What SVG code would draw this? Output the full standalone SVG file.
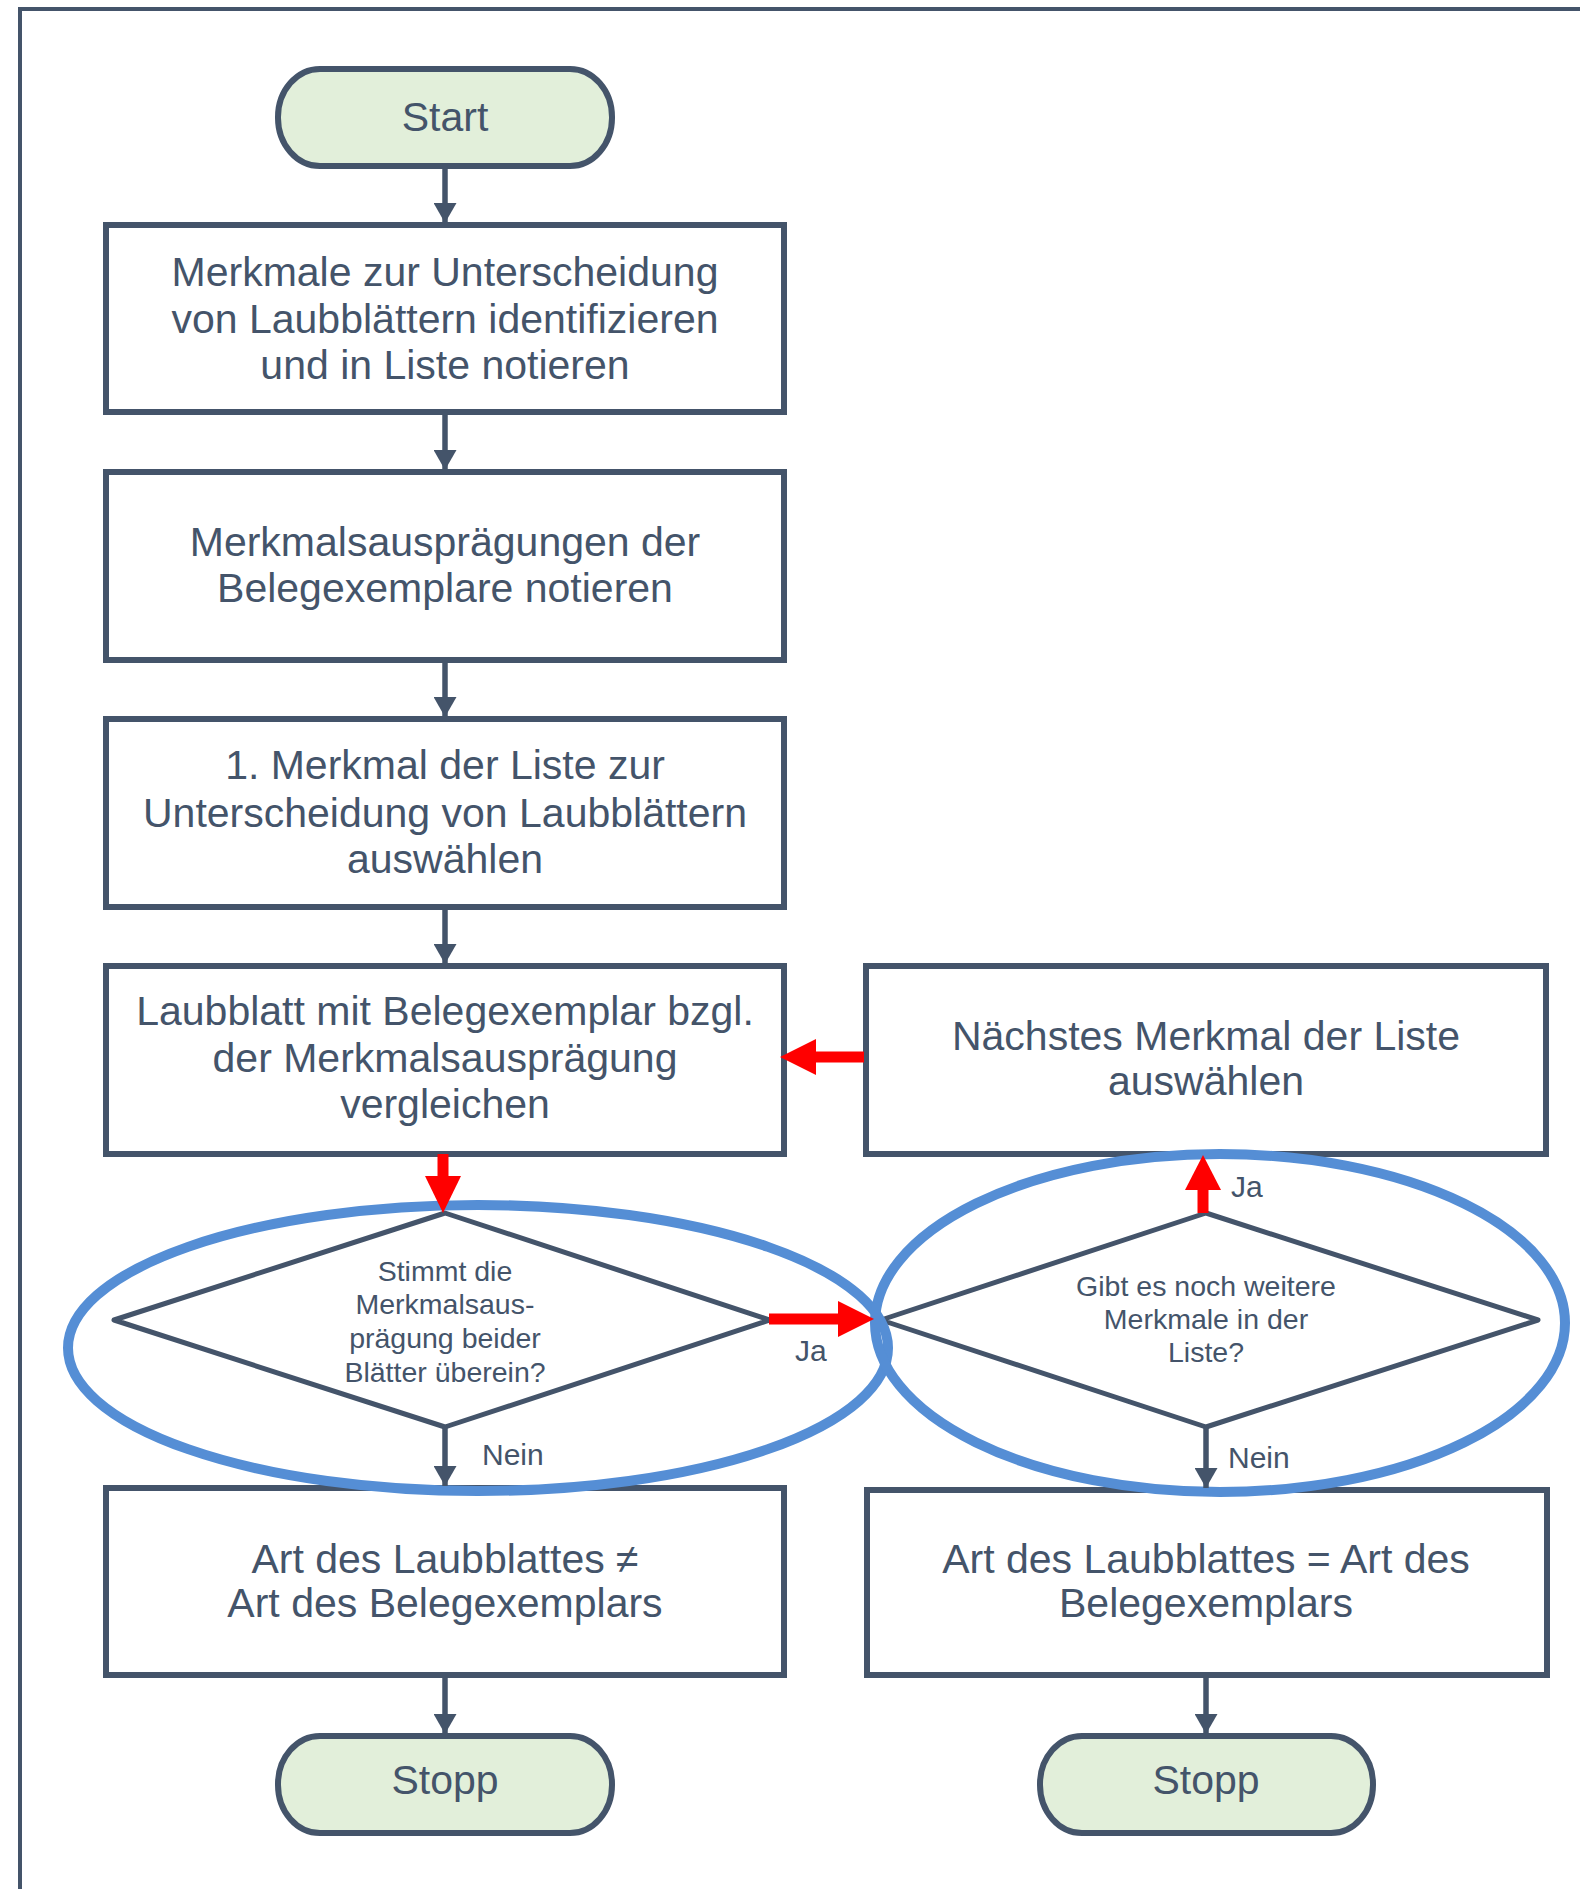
<svg xmlns="http://www.w3.org/2000/svg" width="1580" height="1889" viewBox="0 0 1580 1889">
<defs>
<style>
.frame{fill:none;stroke:#44546A;stroke-width:4}
.box{fill:#FFFFFF;stroke:#44546A;stroke-width:6}
.term{fill:#E2EFDA;stroke:#44546A;stroke-width:6}
.dia{fill:#FFFFFF;stroke:#44546A;stroke-width:5;stroke-linejoin:round}
.ell{fill:none;stroke:#558ED5;stroke-width:10}
.t{font-family:"Liberation Sans",Arial,sans-serif;fill:#44546A;text-anchor:middle}
.big{font-size:41px}
.small{font-size:28.5px}
.lbl{font-family:"Liberation Sans",Arial,sans-serif;fill:#44546A;font-size:30px}
.con{stroke:#44546A;stroke-width:5.5;fill:none}
.red{stroke:#FF0000;stroke-width:11;fill:none}
</style>
<marker id="ah" viewBox="0 0 20 23" refX="20" refY="11.5" markerWidth="20" markerHeight="23" markerUnits="userSpaceOnUse" orient="auto">
<path d="M0,0 L20,11.5 L0,23 Z" fill="#44546A"/>
</marker>
</defs>
<rect width="1580" height="1889" fill="#FFFFFF"/>
<path class="frame" d="M20,1889 V9 H1580"/>

<g id="start"><rect class="term" x="278" y="69" width="334" height="97" rx="42" ry="48"/><text class="t big" x="445" y="131">Start</text></g>
<g id="box1"><rect class="box" x="106" y="225" width="678" height="187"/><text class="t big" x="445" y="286">Merkmale zur Unterscheidung</text><text class="t big" x="445" y="333">von Laubblättern identifizieren</text><text class="t big" x="445" y="379">und in Liste notieren</text></g>
<g id="box2"><rect class="box" x="106" y="472" width="678" height="188"/><text class="t big" x="445" y="556">Merkmalsausprägungen der</text><text class="t big" x="445" y="602">Belegexemplare notieren</text></g>
<g id="box3"><rect class="box" x="106" y="719" width="678" height="188"/><text class="t big" x="445" y="779">1. Merkmal der Liste zur</text><text class="t big" x="445" y="827">Unterscheidung von Laubblättern</text><text class="t big" x="445" y="873">auswählen</text></g>
<g id="box4"><rect class="box" x="106" y="966" width="678" height="188"/><text class="t big" x="445" y="1025">Laubblatt mit Belegexemplar bzgl.</text><text class="t big" x="445" y="1072">der Merkmalsausprägung</text><text class="t big" x="445" y="1118">vergleichen</text></g>
<g id="next"><rect class="box" x="866" y="966" width="680" height="188"/><text class="t big" x="1206" y="1050">Nächstes Merkmal der Liste</text><text class="t big" x="1206" y="1095">auswählen</text></g>
<g id="dec1"><path class="dia" d="M445,1213 L770,1320 L445,1427 L114,1320 Z"/><text class="t small" x="445" y="1281">Stimmt die</text><text class="t small" x="445" y="1314">Merkmalsaus-</text><text class="t small" x="445" y="1348">prägung beider</text><text class="t small" x="445" y="1382">Blätter überein?</text></g>
<g id="dec2"><path class="dia" d="M1206,1213 L1538,1320 L1206,1427 L881,1320 Z"/><text class="t small" x="1206" y="1296">Gibt es noch weitere</text><text class="t small" x="1206" y="1329">Merkmale in der</text><text class="t small" x="1206" y="1362">Liste?</text></g>
<g id="neq"><rect class="box" x="106" y="1488" width="678" height="187"/><text class="t big" x="445" y="1573">Art des Laubblattes ≠</text><text class="t big" x="445" y="1617">Art des Belegexemplars</text></g>
<g id="eq"><rect class="box" x="867" y="1490" width="680" height="185"/><text class="t big" x="1206" y="1573">Art des Laubblattes = Art des</text><text class="t big" x="1206" y="1617">Belegexemplars</text></g>
<g id="stop1"><rect class="term" x="278" y="1736" width="334" height="97" rx="42" ry="48"/><text class="t big" x="445" y="1794">Stopp</text></g>
<g id="stop2"><rect class="term" x="1040" y="1736" width="333" height="97" rx="42" ry="48"/><text class="t big" x="1206" y="1794">Stopp</text></g>

<g id="highlights">
<ellipse class="ell" cx="478" cy="1348" rx="410" ry="143"/>
<ellipse class="ell" cx="1220" cy="1323" rx="345" ry="169"/>
</g>

<g id="connectors">
<line class="con" x1="445" y1="166" x2="445" y2="223" marker-end="url(#ah)"/>
<line class="con" x1="445" y1="412" x2="445" y2="470" marker-end="url(#ah)"/>
<line class="con" x1="445" y1="660" x2="445" y2="717" marker-end="url(#ah)"/>
<line class="con" x1="445" y1="907" x2="445" y2="964" marker-end="url(#ah)"/>
<line class="con" x1="445" y1="1427" x2="445" y2="1486" marker-end="url(#ah)"/>
<line class="con" x1="1206" y1="1427" x2="1206" y2="1488" marker-end="url(#ah)"/>
<line class="con" x1="445" y1="1675" x2="445" y2="1734" marker-end="url(#ah)"/>
<line class="con" x1="1206" y1="1675" x2="1206" y2="1734" marker-end="url(#ah)"/>
<line class="red" x1="864" y1="1057" x2="814" y2="1057"/>
<path d="M780,1057 L816,1039 L816,1075 Z" fill="#FF0000"/>
<line class="red" x1="443" y1="1154" x2="443" y2="1180"/>
<path d="M443,1213 L425,1176 L461,1176 Z" fill="#FF0000"/>
<line class="red" x1="769" y1="1319" x2="840" y2="1319"/>
<path d="M874,1319 L838,1301 L838,1337 Z" fill="#FF0000"/>
<line class="red" x1="1203" y1="1213" x2="1203" y2="1186"/>
<path d="M1203,1155 L1185,1190 L1221,1190 Z" fill="#FF0000"/>
<text class="lbl" x="795" y="1361">Ja</text>
<text class="lbl" x="482" y="1465">Nein</text>
<text class="lbl" x="1231" y="1197">Ja</text>
<text class="lbl" x="1228" y="1468">Nein</text>
</g>
</svg>
